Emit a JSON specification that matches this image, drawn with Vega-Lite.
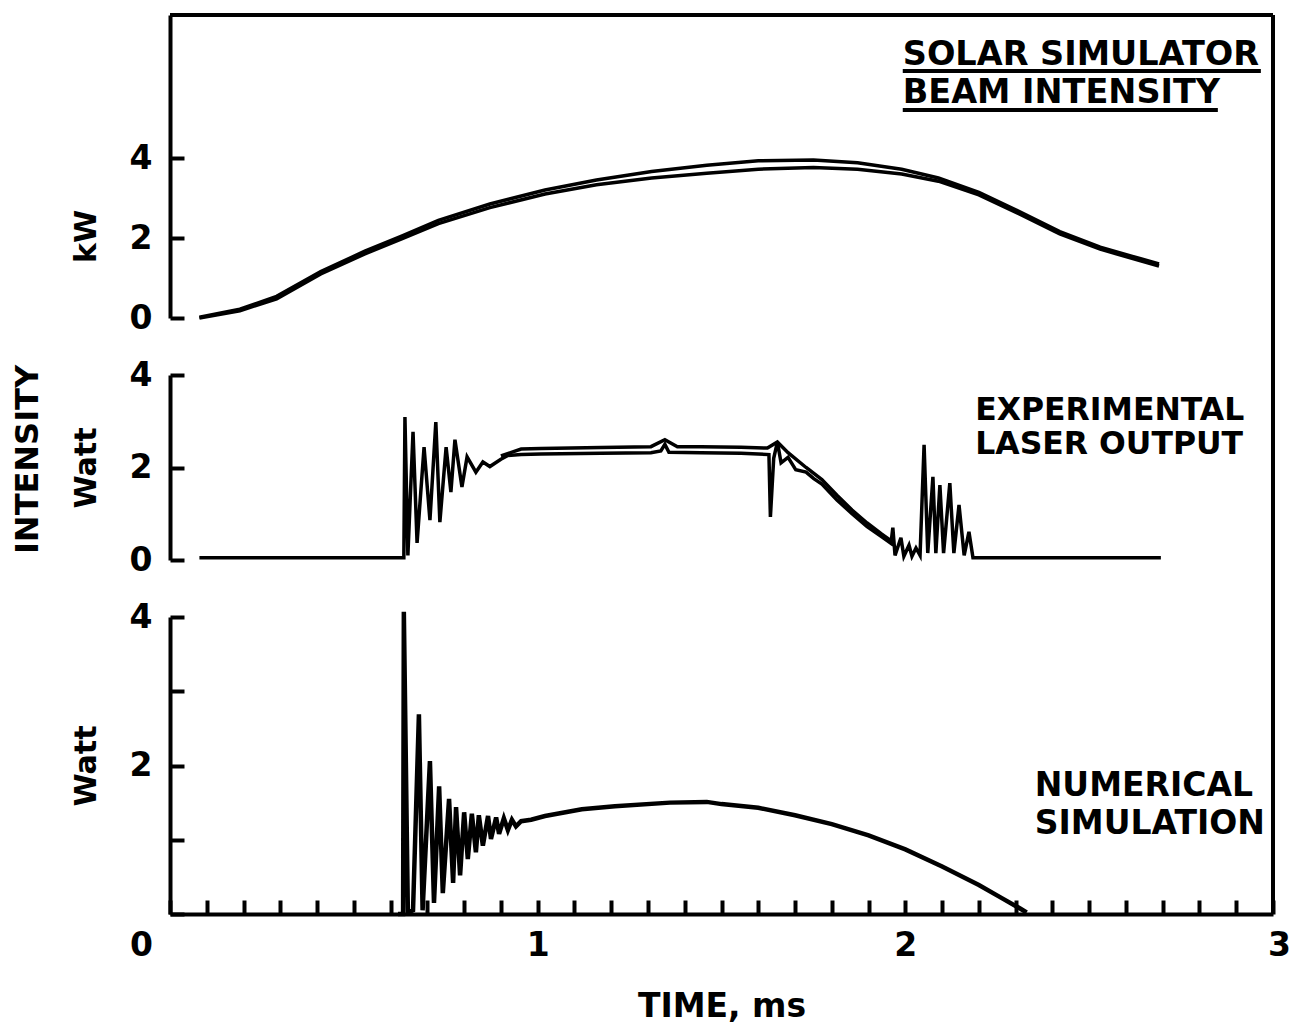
{
  "$schema": "https://vega.github.io/schema/vega-lite/v6.json",
  "background": "white",
  "padding": {"left": 12, "top": 13, "right": 5, "bottom": 5},
  "bounds": "flush",
  "spacing": 57,
  "config": {
    "view": {"stroke": null},
    "axis": {
      "grid": false, "domainColor": "black", "domainWidth": 4, "tickColor": "black", "tickWidth": 4, "tickSize": -14,
      "labelFont": "DejaVu Sans", "labelFontWeight": "bold", "labelFontSize": 33, "labelColor": "black",
      "titleFont": "DejaVu Sans", "titleFontWeight": "bold", "titleFontSize": 30, "titleColor": "black"
    },
    "axisY": {"labelPadding": 32, "titlePadding": 28},
    "axisX": {"labelPadding": 29, "titlePadding": 28, "labelFlush": false},
    "title": {"font": "DejaVu Sans", "fontWeight": "bold", "color": "black"}
  },
  "datasets": {
    "solar": [
      {"t": 0.08, "kW": 0.0, "trace": "a"}, {"t": 0.19, "kW": 0.18, "trace": "a"}, {"t": 0.29, "kW": 0.48, "trace": "a"},
      {"t": 0.41, "kW": 1.1, "trace": "a"}, {"t": 0.53, "kW": 1.6, "trace": "a"}, {"t": 0.63, "kW": 1.98, "trace": "a"},
      {"t": 0.73, "kW": 2.36, "trace": "a"}, {"t": 0.87, "kW": 2.76, "trace": "a"}, {"t": 1.02, "kW": 3.1, "trace": "a"},
      {"t": 1.16, "kW": 3.33, "trace": "a"}, {"t": 1.31, "kW": 3.5, "trace": "a"}, {"t": 1.46, "kW": 3.62, "trace": "a"},
      {"t": 1.6, "kW": 3.72, "trace": "a"}, {"t": 1.75, "kW": 3.76, "trace": "a"}, {"t": 1.87, "kW": 3.72, "trace": "a"},
      {"t": 1.99, "kW": 3.6, "trace": "a"}, {"t": 2.09, "kW": 3.42, "trace": "a"}, {"t": 2.2, "kW": 3.08, "trace": "a"},
      {"t": 2.31, "kW": 2.6, "trace": "a"}, {"t": 2.42, "kW": 2.1, "trace": "a"}, {"t": 2.53, "kW": 1.72, "trace": "a"},
      {"t": 2.64, "kW": 1.43, "trace": "a"}, {"t": 2.69, "kW": 1.3, "trace": "a"},
      {"t": 0.08, "kW": 0.02, "trace": "b"}, {"t": 0.19, "kW": 0.22, "trace": "b"}, {"t": 0.29, "kW": 0.54, "trace": "b"},
      {"t": 0.41, "kW": 1.16, "trace": "b"}, {"t": 0.53, "kW": 1.67, "trace": "b"}, {"t": 0.63, "kW": 2.05, "trace": "b"},
      {"t": 0.73, "kW": 2.44, "trace": "b"}, {"t": 0.87, "kW": 2.85, "trace": "b"}, {"t": 1.02, "kW": 3.2, "trace": "b"},
      {"t": 1.16, "kW": 3.45, "trace": "b"}, {"t": 1.31, "kW": 3.66, "trace": "b"}, {"t": 1.46, "kW": 3.82, "trace": "b"},
      {"t": 1.6, "kW": 3.93, "trace": "b"}, {"t": 1.75, "kW": 3.95, "trace": "b"}, {"t": 1.87, "kW": 3.88, "trace": "b"},
      {"t": 1.99, "kW": 3.72, "trace": "b"}, {"t": 2.09, "kW": 3.5, "trace": "b"}, {"t": 2.2, "kW": 3.14, "trace": "b"},
      {"t": 2.31, "kW": 2.66, "trace": "b"}, {"t": 2.42, "kW": 2.16, "trace": "b"}, {"t": 2.53, "kW": 1.77, "trace": "b"},
      {"t": 2.64, "kW": 1.48, "trace": "b"}, {"t": 2.69, "kW": 1.35, "trace": "b"}
    ],
    "laser": [
      {"t": 0.08, "W": 0.05, "trace": "a"}, {"t": 0.628, "W": 0.05, "trace": "a"}, {"t": 0.636, "W": 0.05, "trace": "a"},
      {"t": 0.639, "W": 3.09, "trace": "a"}, {"t": 0.647, "W": 0.1, "trace": "a"}, {"t": 0.661, "W": 2.77, "trace": "a"},
      {"t": 0.672, "W": 0.37, "trace": "a"}, {"t": 0.691, "W": 2.44, "trace": "a"}, {"t": 0.707, "W": 0.86, "trace": "a"},
      {"t": 0.723, "W": 2.98, "trace": "a"}, {"t": 0.734, "W": 0.82, "trace": "a"}, {"t": 0.751, "W": 2.44, "trace": "a"},
      {"t": 0.764, "W": 1.47, "trace": "a"}, {"t": 0.775, "W": 2.6, "trace": "a"}, {"t": 0.794, "W": 1.58, "trace": "a"},
      {"t": 0.808, "W": 2.23, "trace": "a"}, {"t": 0.832, "W": 1.9, "trace": "a"}, {"t": 0.851, "W": 2.12, "trace": "a"},
      {"t": 0.87, "W": 2.02, "trace": "a"}, {"t": 0.9, "W": 2.18, "trace": "a"}, {"t": 0.919, "W": 2.26, "trace": "a"},
      {"t": 0.955, "W": 2.28, "trace": "a"}, {"t": 1.009, "W": 2.29, "trace": "a"}, {"t": 1.172, "W": 2.31, "trace": "a"},
      {"t": 1.308, "W": 2.32, "trace": "a"}, {"t": 1.335, "W": 2.36, "trace": "a"}, {"t": 1.346, "W": 2.5, "trace": "a"},
      {"t": 1.357, "W": 2.33, "trace": "a"}, {"t": 1.444, "W": 2.32, "trace": "a"}, {"t": 1.553, "W": 2.31, "trace": "a"},
      {"t": 1.629, "W": 2.28, "trace": "a"}, {"t": 1.633, "W": 0.93, "trace": "a"}, {"t": 1.642, "W": 2.2, "trace": "a"},
      {"t": 1.652, "W": 2.55, "trace": "a"}, {"t": 1.662, "W": 2.1, "trace": "a"}, {"t": 1.681, "W": 2.22, "trace": "a"},
      {"t": 1.702, "W": 1.95, "trace": "a"}, {"t": 1.73, "W": 1.9, "trace": "a"}, {"t": 1.751, "W": 1.76, "trace": "a"},
      {"t": 1.773, "W": 1.64, "trace": "a"}, {"t": 1.814, "W": 1.3, "trace": "a"}, {"t": 1.855, "W": 1.0, "trace": "a"},
      {"t": 1.896, "W": 0.72, "trace": "a"}, {"t": 1.936, "W": 0.5, "trace": "a"}, {"t": 1.961, "W": 0.36, "trace": "a"},
      {"t": 1.966, "W": 0.7, "trace": "a"}, {"t": 1.972, "W": 0.1, "trace": "a"}, {"t": 1.988, "W": 0.48, "trace": "a"},
      {"t": 1.996, "W": 0.08, "trace": "a"}, {"t": 2.01, "W": 0.32, "trace": "a"}, {"t": 2.018, "W": 0.08, "trace": "a"},
      {"t": 2.029, "W": 0.26, "trace": "a"}, {"t": 2.04, "W": 0.1, "trace": "a"}, {"t": 2.051, "W": 2.49, "trace": "a"},
      {"t": 2.061, "W": 0.15, "trace": "a"}, {"t": 2.075, "W": 1.8, "trace": "a"}, {"t": 2.083, "W": 0.15, "trace": "a"},
      {"t": 2.094, "W": 1.62, "trace": "a"}, {"t": 2.104, "W": 0.15, "trace": "a"}, {"t": 2.121, "W": 1.66, "trace": "a"},
      {"t": 2.132, "W": 0.15, "trace": "a"}, {"t": 2.146, "W": 1.19, "trace": "a"}, {"t": 2.16, "W": 0.1, "trace": "a"},
      {"t": 2.173, "W": 0.61, "trace": "a"}, {"t": 2.184, "W": 0.05, "trace": "a"}, {"t": 2.695, "W": 0.05, "trace": "a"},
      {"t": 0.9, "W": 2.25, "trace": "b"}, {"t": 0.955, "W": 2.4, "trace": "b"}, {"t": 1.009, "W": 2.41, "trace": "b"},
      {"t": 1.172, "W": 2.43, "trace": "b"}, {"t": 1.308, "W": 2.45, "trace": "b"}, {"t": 1.346, "W": 2.6, "trace": "b"},
      {"t": 1.38, "W": 2.45, "trace": "b"}, {"t": 1.444, "W": 2.45, "trace": "b"}, {"t": 1.553, "W": 2.44, "trace": "b"},
      {"t": 1.625, "W": 2.42, "trace": "b"}, {"t": 1.652, "W": 2.55, "trace": "b"}, {"t": 1.681, "W": 2.32, "trace": "b"},
      {"t": 1.73, "W": 2.0, "trace": "b"}, {"t": 1.773, "W": 1.74, "trace": "b"}, {"t": 1.814, "W": 1.4, "trace": "b"},
      {"t": 1.855, "W": 1.08, "trace": "b"}, {"t": 1.896, "W": 0.8, "trace": "b"}, {"t": 1.936, "W": 0.56, "trace": "b"},
      {"t": 1.961, "W": 0.42, "trace": "b"}
    ],
    "sim": [
      {"t": 0.62, "W": 0}, {"t": 0.634, "W": 0}, {"t": 0.636, "W": 4.07}, {"t": 0.647, "W": 0.02}, {"t": 0.661, "W": 0.05},
      {"t": 0.677, "W": 2.69}, {"t": 0.687, "W": 0.05}, {"t": 0.707, "W": 2.06}, {"t": 0.718, "W": 0.15}, {"t": 0.732, "W": 1.72},
      {"t": 0.742, "W": 0.28}, {"t": 0.759, "W": 1.55}, {"t": 0.77, "W": 0.42}, {"t": 0.778, "W": 1.44}, {"t": 0.789, "W": 0.52},
      {"t": 0.8, "W": 1.37}, {"t": 0.81, "W": 0.74}, {"t": 0.821, "W": 1.35}, {"t": 0.832, "W": 0.83}, {"t": 0.84, "W": 1.33},
      {"t": 0.851, "W": 0.92}, {"t": 0.865, "W": 1.32}, {"t": 0.873, "W": 1.01}, {"t": 0.887, "W": 1.3}, {"t": 0.895, "W": 1.08},
      {"t": 0.908, "W": 1.29}, {"t": 0.919, "W": 1.13}, {"t": 0.93, "W": 1.27}, {"t": 0.941, "W": 1.18}, {"t": 0.955, "W": 1.25},
      {"t": 0.982, "W": 1.27}, {"t": 1.02, "W": 1.32}, {"t": 1.12, "W": 1.41}, {"t": 1.21, "W": 1.45}, {"t": 1.36, "W": 1.5},
      {"t": 1.46, "W": 1.51}, {"t": 1.5, "W": 1.48}, {"t": 1.6, "W": 1.43}, {"t": 1.7, "W": 1.33}, {"t": 1.8, "W": 1.21},
      {"t": 1.9, "W": 1.06}, {"t": 2.0, "W": 0.87}, {"t": 2.1, "W": 0.64}, {"t": 2.2, "W": 0.39}, {"t": 2.26, "W": 0.22},
      {"t": 2.31, "W": 0.08}, {"t": 2.33, "W": 0.02}
    ]
  },
  "vconcat": [
    {
      "width": 1103, "height": 303,
      "layer": [
        {
          "data": {"name": "solar"},
          "mark": {"type": "line", "color": "black", "strokeWidth": 3.5},
          "encoding": {
            "x": {"field": "t", "type": "quantitative", "scale": {"domain": [0, 3], "nice": false}, "axis": null},
            "y": {"field": "kW", "type": "quantitative", "scale": {"domain": [0, 7.575], "nice": false, "zero": false}, "axis": {"values": [0, 2, 4], "format": "d", "title": "kW", "titleY": 221}},
            "detail": {"field": "trace"}
          }
        },
        {
          "data": {"values": [{}]},
          "mark": {"type": "rule", "color": "black", "strokeWidth": 4, "clip": false},
          "encoding": {"x": {"datum": 0}, "x2": {"datum": 3}, "y": {"datum": 7.575}}
        },
        {
          "data": {"values": [{}]},
          "mark": {"type": "rule", "color": "black", "strokeWidth": 4, "clip": false},
          "encoding": {"x": {"datum": 3}, "y": {"datum": 7.575}, "y2": {"datum": -1.425}}
        },
        {
          "data": {"values": [{}]},
          "mark": {"type": "text", "align": "left", "baseline": "middle", "font": "DejaVu Sans", "fontWeight": "bold", "fontSize": 33.5, "color": "black"},
          "encoding": {"x": {"datum": 1.993}, "y": {"datum": 6.575}, "text": {"value": "SOLAR SIMULATOR"}}
        },
        {
          "data": {"values": [{}]},
          "mark": {"type": "text", "align": "left", "baseline": "middle", "font": "DejaVu Sans", "fontWeight": "bold", "fontSize": 33.5, "color": "black"},
          "encoding": {"x": {"datum": 1.993}, "y": {"datum": 5.625}, "text": {"value": "BEAM INTENSITY"}}
        },
        {
          "data": {"values": [{}]},
          "mark": {"type": "rule", "color": "black", "strokeWidth": 4},
          "encoding": {"x": {"datum": 1.993}, "x2": {"datum": 2.967}, "y": {"datum": 6.175}}
        },
        {
          "data": {"values": [{}]},
          "mark": {"type": "rule", "color": "black", "strokeWidth": 4},
          "encoding": {"x": {"datum": 1.993}, "x2": {"datum": 2.85}, "y": {"datum": 5.2}}
        }
      ]
    },
    {
      "width": 1103, "height": 185,
      "title": {"text": "INTENSITY", "orient": "left", "anchor": "middle", "frame": "group", "fontSize": 32, "offset": 26, "dx": 8},
      "layer": [
        {
          "data": {"name": "laser"},
          "mark": {"type": "line", "color": "black", "strokeWidth": 3.5},
          "encoding": {
            "x": {"field": "t", "type": "quantitative", "scale": {"domain": [0, 3], "nice": false}, "axis": null},
            "y": {"field": "W", "type": "quantitative", "scale": {"domain": [0, 4], "nice": false}, "axis": {"values": [0, 2, 4], "format": "d", "title": "Watt"}},
            "detail": {"field": "trace"}
          }
        },
        {
          "data": {"values": [{}]},
          "mark": {"type": "rule", "color": "black", "strokeWidth": 4, "clip": false},
          "encoding": {"x": {"datum": 3}, "y": {"datum": 4}, "y2": {"datum": -1.25}}
        },
        {
          "data": {"values": [{}]},
          "mark": {"type": "text", "align": "left", "baseline": "middle", "font": "DejaVu Sans", "fontWeight": "bold", "fontSize": 31.5, "color": "black"},
          "encoding": {"x": {"datum": 2.19}, "y": {"datum": 3.22}, "text": {"value": "EXPERIMENTAL"}}
        },
        {
          "data": {"values": [{}]},
          "mark": {"type": "text", "align": "left", "baseline": "middle", "font": "DejaVu Sans", "fontWeight": "bold", "fontSize": 31.5, "color": "black"},
          "encoding": {"x": {"datum": 2.19}, "y": {"datum": 2.48}, "text": {"value": "LASER OUTPUT"}}
        }
      ]
    },
    {
      "width": 1103, "height": 297,
      "layer": [
        {
          "data": {"name": "sim"},
          "mark": {"type": "line", "color": "black", "strokeWidth": 4.5},
          "encoding": {
            "x": {"field": "t", "type": "quantitative", "scale": {"domain": [0, 3], "nice": false},
              "axis": {"title": "TIME, ms", "titleFontSize": 33, "tickCount": 40,
                "values": [0, 0.1, 0.2, 0.3, 0.4, 0.5, 0.6, 0.7, 0.8, 0.9, 1, 1.1, 1.2, 1.3, 1.4, 1.5, 1.6, 1.7, 1.8, 1.9, 2, 2.1, 2.2, 2.3, 2.4, 2.5, 2.6, 2.7, 2.8, 2.9, 3],
                "labelExpr": "datum.value % 1 == 0 ? format(datum.value, 'd') : ''",
                "labelOffset": {"condition": [{"test": "datum.value == 0", "value": -29}, {"test": "datum.value == 3", "value": 6}], "value": 0}}},
            "y": {"field": "W", "type": "quantitative", "scale": {"domain": [0, 4], "nice": false}, "axis": {"values": [0, 1, 2, 3, 4], "title": "Watt", "labelExpr": "datum.value == 2 || datum.value == 4 ? format(datum.value, 'd') : ''"}}
          }
        },
        {
          "data": {"values": [{}]},
          "mark": {"type": "rule", "color": "black", "strokeWidth": 4, "clip": false},
          "encoding": {"x": {"datum": 3}, "y": {"datum": 4}, "y2": {"datum": 0}}
        },
        {
          "data": {"values": [{}]},
          "mark": {"type": "text", "align": "left", "baseline": "middle", "font": "DejaVu Sans", "fontWeight": "bold", "fontSize": 33, "color": "black"},
          "encoding": {"x": {"datum": 2.352}, "y": {"datum": 1.72}, "text": {"value": "NUMERICAL"}}
        },
        {
          "data": {"values": [{}]},
          "mark": {"type": "text", "align": "left", "baseline": "middle", "font": "DejaVu Sans", "fontWeight": "bold", "fontSize": 33, "color": "black"},
          "encoding": {"x": {"datum": 2.352}, "y": {"datum": 1.21}, "text": {"value": "SIMULATION"}}
        }
      ]
    }
  ]
}
